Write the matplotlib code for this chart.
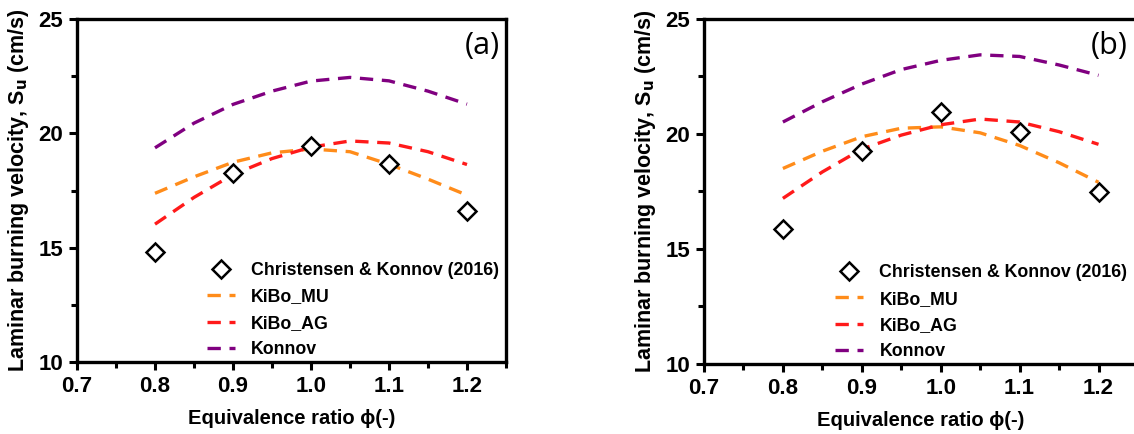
import numpy as np
import matplotlib.pyplot as plt
from matplotlib.ticker import MultipleLocator

plt.rcParams['font.family'] = ['Liberation Sans', 'DejaVu Sans']

phi_exp = [0.8, 0.9, 1.0, 1.1, 1.2]
phi_model = [0.8, 0.85, 0.9, 0.95, 1.0, 1.05, 1.1, 1.15, 1.2]

# panel (a)
exp_a = [14.82, 18.25, 19.47, 18.65, 16.6]
mu_a = [17.38, 18.1, 18.74, 19.15, 19.32, 19.2, 18.65, 18.0, 17.3]
ag_a = [16.03, 17.2, 18.2, 18.9, 19.4, 19.67, 19.58, 19.2, 18.64]
konnov_a = [19.37, 20.45, 21.27, 21.85, 22.29, 22.45, 22.3, 21.85, 21.28]

# panel (b)
exp_b = [15.85, 19.28, 20.97, 20.07, 17.47]
mu_b = [18.5, 19.25, 19.88, 20.25, 20.31, 20.05, 19.5, 18.75, 17.9]
ag_b = [17.2, 18.35, 19.34, 19.95, 20.4, 20.65, 20.52, 20.1, 19.55]
konnov_b = [20.52, 21.4, 22.17, 22.8, 23.2, 23.44, 23.37, 23.0, 22.55]

labels = ['Christensen & Konnov (2016)', 'KiBo_MU', 'KiBo_AG', 'Konnov']


def draw(ax, exp, mu, ag, kon, tag):
    ax.plot(phi_exp, exp, linestyle='none', marker='D', markersize=9,
            markerfacecolor='white', markeredgecolor='black',
            markeredgewidth=1.8, label=labels[0], zorder=5)
    dash = (4, 2.6)
    ax.plot(phi_model, mu, color='#ff8c1a', lw=2.4, dashes=dash, label=labels[1])
    ax.plot(phi_model, ag, color='#ff1a1a', lw=2.4, dashes=dash, label=labels[2])
    ax.plot(phi_model, kon, color='#800080', lw=2.4, dashes=dash, label=labels[3])

    ax.set_xlim(0.7, 1.25)
    ax.set_ylim(10, 25)
    ax.xaxis.set_minor_locator(MultipleLocator(0.05))
    ax.yaxis.set_major_locator(MultipleLocator(5))
    ax.yaxis.set_minor_locator(MultipleLocator(2.5))
    ax.set_xticks([0.7, 0.8, 0.9, 1.0, 1.1, 1.2])
    ax.set_xticklabels(['0.7', '0.8', '0.9', '1.0', '1.1', '1.2'])
    for s in ax.spines.values():
        s.set_linewidth(2.4)
    ax.tick_params(which='major', length=6, width=2.2, labelsize=16, pad=4)
    ax.tick_params(which='minor', length=4, width=2.2)
    for t in ax.get_xticklabels() + ax.get_yticklabels():
        t.set_fontweight('bold')

    ax.set_xlabel('Equivalence ratio \u03d5(-)', fontsize=14.5, fontweight='bold', labelpad=9)
    ax.set_ylabel('Laminar burning velocity, S$_\\mathbf{u}$ (cm/s)', fontsize=15.5,
                  fontweight='bold', labelpad=5)
    ax.text(0.985, 0.965, tag, transform=ax.transAxes, ha='right', va='top',
            fontsize=22, family=['Open Sans', 'DejaVu Sans'])
    ax.legend(loc='lower left', bbox_to_anchor=(0.265, -0.035), frameon=False,
              prop={'size': 12.8, 'weight': 'bold'}, handlelength=1.6,
              labelspacing=0.52, handletextpad=0.9)


fig = plt.figure(figsize=(11.34, 4.34), dpi=100)
ax1 = fig.add_axes([0.0679, 0.1659, 0.3783, 0.790])
ax2 = fig.add_axes([0.6208, 0.1613, 0.3827, 0.795])

draw(ax1, exp_a, mu_a, ag_a, konnov_a, '(a)')
draw(ax2, exp_b, mu_b, ag_b, konnov_b, '(b)')
ax2.texts[0].set_position((0.977, 0.965))

fig.savefig('out.png', dpi=100)
